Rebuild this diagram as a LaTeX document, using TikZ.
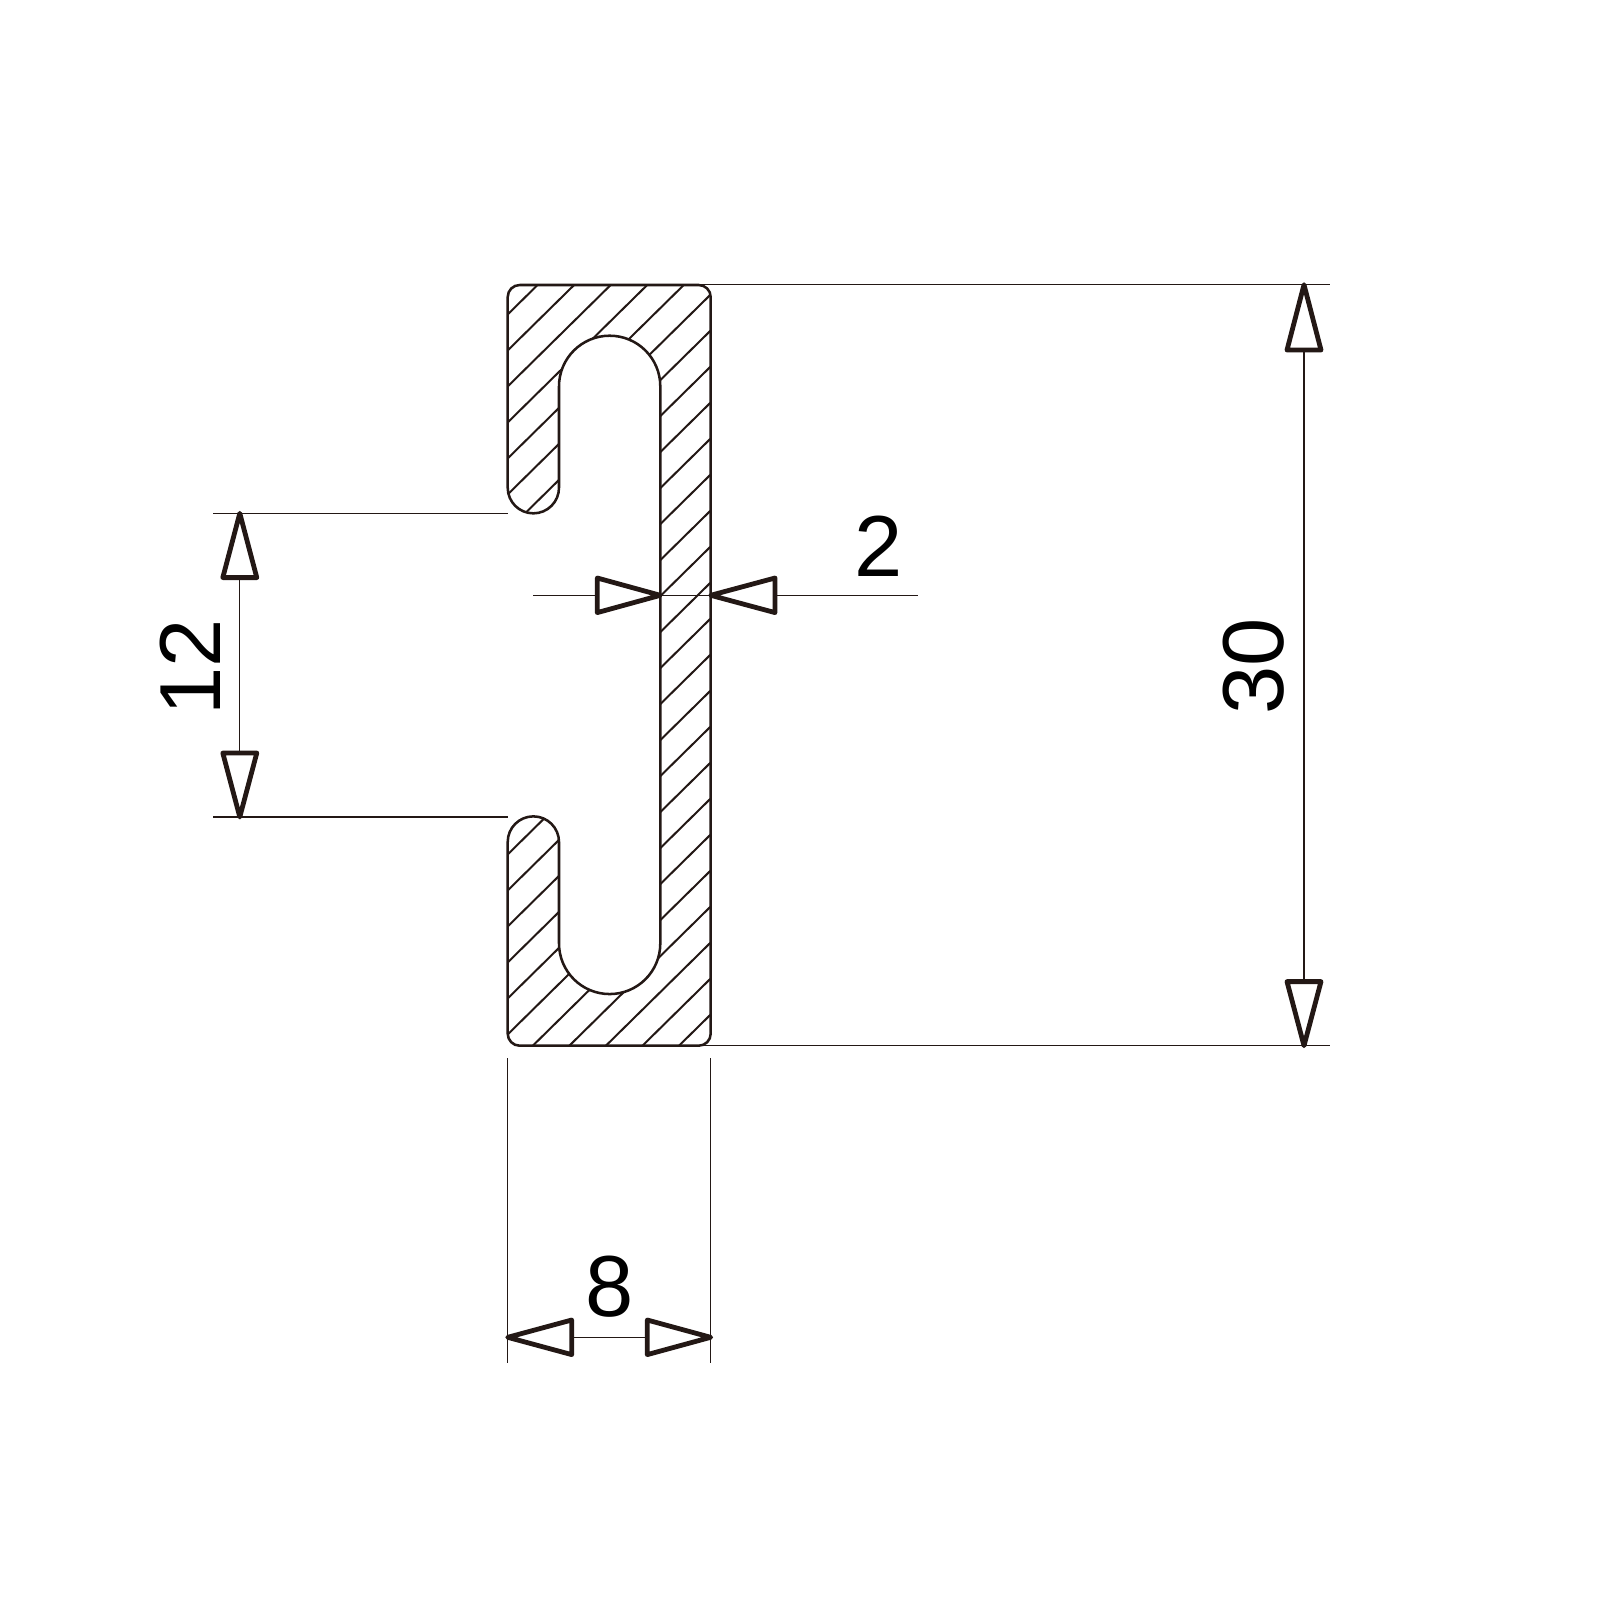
\documentclass[tikz,border=0pt]{standalone}
\usepackage{fontspec}
\setmainfont{Liberation Sans}
\definecolor{lineBrown}{RGB}{35,24,21}
\tikzset{
  profileLine/.style={draw=lineBrown,line width=1.9},
  hatchLine/.style={draw=lineBrown,line width=1.5},
  thinLine/.style={draw=lineBrown,line width=1},
  dimHead/.style={draw=lineBrown,fill=white,line width=3.6,line join=round},
  dimLabel/.style={text=black,font=\fontsize{65}{70}\selectfont,inner sep=0pt}
}
\newcommand{\profilePath}{(507.7,297) arc (180:270:12) -- (698.7,285) arc (270:360:12) -- (710.7,1033.7) arc (0:90:12) -- (519.7,1045.7) arc (90:180:12) -- (507.7,842) arc (180:270:25.65) arc (270:360:25.65) -- (559,943.4) arc (180:90:50.65) arc (90:0:50.65) -- (660.3,386.35) arc (0:-90:50.65) arc (-90:-180:50.65) -- (559,487.7) arc (0:90:25.65) arc (90:180:25.65) -- cycle}

\begin{document}
\begin{tikzpicture}[x=0.75pt,y=0.75pt,yscale=-1]
\useasboundingbox (0,0) rectangle (1600,1600);

%Hatching
\begin{scope}
\clip \profilePath;
\foreach \k in {0,...,25}{
  \draw [hatchLine] (500,{322+36*\k}) -- (720,{105.3+36*\k});
}
\end{scope}

%Shape: Profile
\draw [profileLine] \profilePath;

%Straight Lines: extension lines
\draw [thinLine] (698,284.7) -- (1330,284.7);
\draw [thinLine] (698,1045.7) -- (1330,1045.7);
\draw [thinLine] (213.3,513.3) -- (507.7,513.3);
\draw [thinLine] (213.3,817) -- (507.7,817);
\draw [thinLine] (507.7,1058) -- (507.7,1363);
\draw [thinLine] (710.7,1058) -- (710.7,1363);

%Straight Lines: dimension lines
\draw [thinLine] (1304,284.7) -- (1304,1045.7);
\draw [thinLine] (239.8,513.3) -- (239.8,817);
\draw [thinLine] (507.7,1337.3) -- (710.7,1337.3);
\draw [thinLine] (533,595.3) -- (918,595.3);

%Shape: Arrow heads
\draw [dimHead] (1304,284.7) -- (1321,350) -- (1287,350) -- cycle;
\draw [dimHead] (1304,1045.7) -- (1321,981.6) -- (1287,981.6) -- cycle;
\draw [dimHead] (239.8,513.3) -- (256.8,577.6) -- (222.8,577.6) -- cycle;
\draw [dimHead] (239.8,817) -- (256.8,753) -- (222.8,753) -- cycle;
\draw [dimHead] (507.7,1337.3) -- (571.7,1320) -- (571.7,1354.6) -- cycle;
\draw [dimHead] (710.7,1337.3) -- (647.3,1320) -- (647.3,1354.6) -- cycle;
\draw [dimHead] (660.3,595.3) -- (597.3,578) -- (597.3,612.6) -- cycle;
\draw [dimHead] (710.7,595.3) -- (775,578) -- (775,612.6) -- cycle;

% Text Node
\node [dimLabel] (labelTwo) at (878.6,546) {2};
% Text Node
\node [dimLabel] (labelEight) at (609.5,1287) {8};
% Text Node
\node [dimLabel,rotate=90] (labelThirty) at (1253.5,666) {30};
% Text Node
\node [dimLabel,rotate=90] (labelTwelve) at (190,667) {12};

\end{tikzpicture}
\end{document}
